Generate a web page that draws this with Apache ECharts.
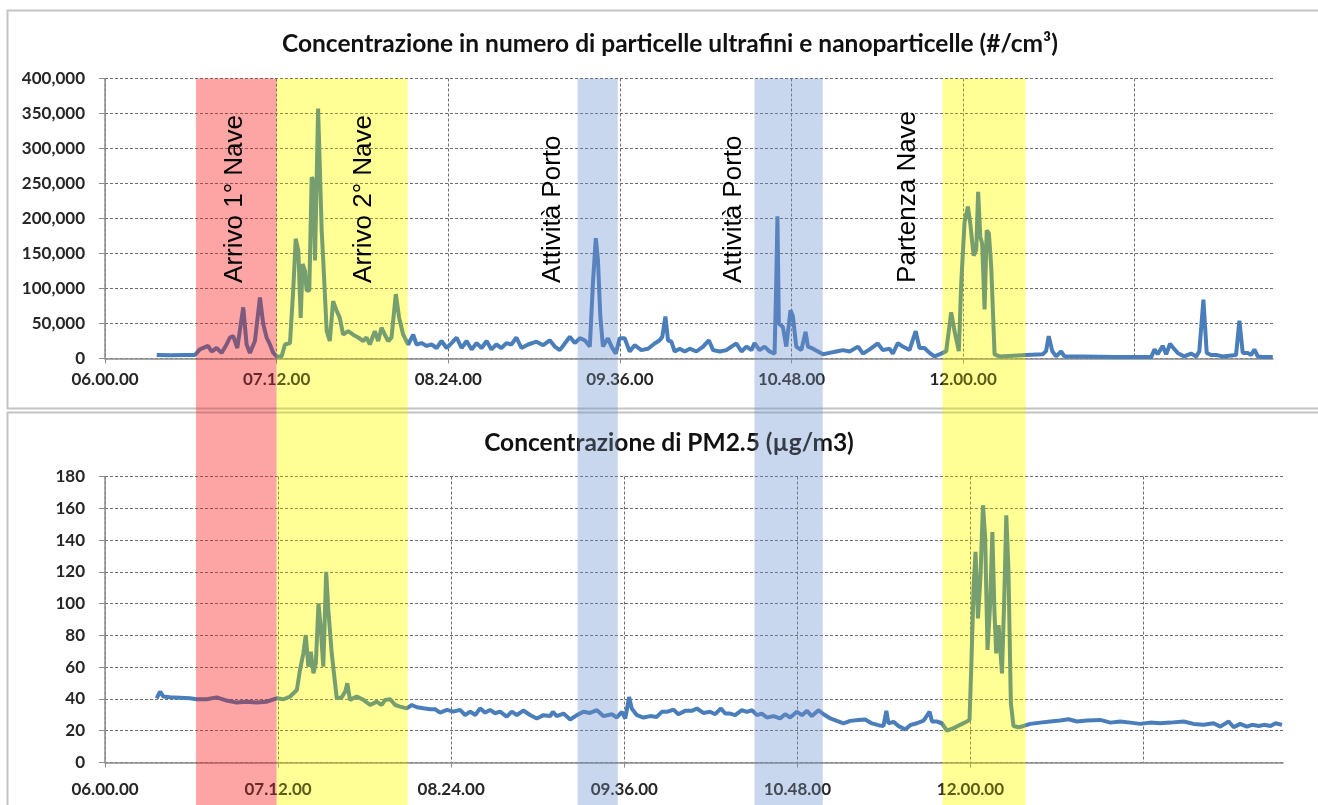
<!DOCTYPE html>
<html><head><meta charset="utf-8">
<script src="https://cdn.jsdelivr.net/npm/echarts@6/dist/echarts.min.js"></script>
<style>html,body{margin:0;padding:0;background:#fff;}#c{width:1318px;height:805px;background:#fff;}
#c canvas[data-zr-dom-id="zr_1"]{mix-blend-mode:multiply;}</style>
</head><body><div id="c"></div>
<script>
// x values: minutes after 06:00
const xTickMinutes = [0, 72, 144, 216, 288, 360, 432];
const xTickLabels = ['06.00.00', '07.12.00', '08.24.00', '09.36.00', '10.48.00', '12.00.00', '13.12.00'];

const ufpMinutes = [21.7,27.3,33.5,37.7,39.8,43.2,44.7,46.8,48.9,51.0,52.4,53.8,55.5,58.0,59.4,60.8,62.9,65.0,66.4,67.8,69.2,70.6,72.0,74.1,75.5,77.6,79.0,80.0,81.1,82.1,82.9,83.9,84.6,85.7,86.7,87.4,88.1,89.4,90.9,91.5,93.0,94.3,95.7,97.2,98.5,99.9,102.0,104.1,106.2,108.3,109.7,111.1,113.2,114.6,116.0,117.4,118.8,120.2,122.0,123.4,125.1,127.2,129.3,130.7,132.8,134.9,137.0,139.1,141.2,143.3,145.4,147.5,149.6,151.7,153.8,155.9,158.0,160.1,162.1,164.2,166.3,168.4,170.5,172.6,174.7,177.5,
181.0,183.8,186.6,188.7,190.8,192.9,195.0,197.1,199.2,201.3,203.4,204.7,205.9,206.8,207.8,208.9,211.0,212.5,214.3,215.9,218.0,220.1,222.2,225.0,227.8,230.6,232.7,233.8,235.1,236.2,237.6,239.0,241.1,243.2,245.3,248.1,250.9,253.3,255.1,257.9,260.7,262.8,264.9,267.0,269.1,271.2,272.5,274.6,276.7,278.8,280.9,281.6,282.1,282.7,284.4,285.8,287.6,288.6,290.0,292.1,293.9,294.9,297.0,299.1,301.2,304.0,306.8,309.6,312.4,315.9,318.0,320.8,324.2,326.3,329.1,330.5,332.6,334.7,337.5,
340.1,341.7,343.8,345.9,348.0,350.8,352.9,355.0,356.4,358.2,359.2,360.6,362.0,363.0,364.4,365.5,366.3,367.2,368.0,369.0,369.9,370.8,371.8,373.2,375.3,386.5,393.4,394.8,395.9,397.4,399.0,401.1,402.5,410.2,424.2,438.9,440.3,441.6,443.7,445.2,446.8,448.2,450.0,452.8,455.6,457.8,459.1,460.8,462.2,464.0,466.1,468.9,474.5,475.9,477.3,479.4,480.8,482.2,483.6,485.7,489.9];
const ufpValues = [5000,4500,5000,5000,13000,18000,10000,15000,8000,20000,30000,32000,15000,73000,20000,8000,25000,87000,49000,30000,20000,8000,3000,3000,20000,22000,100000,171000,154000,58000,135000,125000,97000,97000,259000,254000,140000,357000,183000,144000,39000,25000,82000,68000,58000,34000,39000,34000,30000,25000,30000,20000,39000,25000,44000,34000,25000,30000,92000,58000,34000,20000,34000,20000,22000,18000,20000,15000,25000,15000,22000,30000,15000,25000,13000,22000,15000,25000,13000,20000,15000,22000,20000,30000,15000,20000,
24000,19000,26000,17000,12000,21500,31000,22000,29000,26000,17000,108000,172000,141000,60000,17000,29000,17000,7000,29000,29000,10000,19000,12000,14000,21500,26000,31000,60000,26000,24000,10000,14000,10000,14000,10000,17000,26000,12000,10000,12000,17000,21500,10000,17000,12000,22000,12000,17000,10000,7000,108000,203000,50000,45000,17000,69000,60000,17000,12000,38000,17000,14000,10000,6000,8000,10000,12000,10000,17000,7000,13000,21500,12000,14000,7000,22000,17000,12000,
39000,15000,15000,8000,3000,7000,10500,66000,39000,10500,107000,195000,217000,193000,147000,155000,238000,174000,164000,70000,183000,179000,130000,6000,3000,5000,6000,10500,32000,10500,3000,10000,3000,3000,2000,2000,13000,6000,18000,6000,21000,15000,8000,3000,7000,3000,10500,84000,8000,5000,5000,3000,5000,54000,8000,8000,5000,13000,3000,2000,2000];

const pmMinutes = [21.5,22.9,24.3,27.0,31.2,35.4,38.1,42.3,46.5,50.6,54.8,59.0,63.1,67.3,71.4,74.2,77.0,79.8,81.1,82.5,83.5,84.6,85.6,86.7,87.7,88.8,89.7,90.8,92.0,92.9,94.3,96.4,98.5,99.9,100.8,101.9,104.7,107.5,110.3,113.0,115.1,116.5,118.6,120.7,122.7,125.5,127.6,129.7,132.4,135.2,137.3,139.4,142.2,144.9,147.7,149.8,151.9,154.0,156.0,158.1,160.2,162.3,164.3,167.1,169.2,171.3,174.0,176.8,
179.6,182.4,185.2,186.3,187.9,190.7,193.5,196.3,199.0,201.8,204.6,207.3,210.8,212.9,215.0,216.4,218.0,219.1,221.2,224.0,226.8,229.5,231.6,233.7,236.5,238.5,241.3,244.1,246.2,248.9,251.7,253.8,256.2,258.0,260.0,262.1,264.9,267.0,269.1,271.2,273.2,275.3,278.1,280.8,282.9,285.0,287.8,289.9,292.0,294.0,296.8,298.9,301.7,304.4,307.2,310.0,313.4,316.2,319.0,321.7,323.8,325.0,325.9,328.0,330.1,332.9,334.9,
337.7,340.5,343.0,344.0,346.0,348.1,350.2,353.0,355.7,358.5,359.6,360.3,361.3,362.1,363.1,364.1,365.2,366.1,367.1,368.2,369.1,370.0,370.7,371.7,372.4,373.1,374.0,374.9,375.8,376.8,377.9,380.0,382.1,384.9,389.0,393.2,397.3,400.8,404.3,408.5,414.0,418.2,422.3,426.5,430.6,434.8,439.0,443.1,448.7,452.8,457.0,461.1,463.9,467.4,469.5,472.2,475.0,477.1,479.9,482.0,484.8,486.9,489.6];
const pmValues = [40.4,44.6,41.5,41,40.8,40.4,39.8,39.8,41,39,37.7,38.3,37.7,38.3,40.4,39.8,41.5,45.6,58.2,68.7,80.2,60.3,69.7,56.1,62.4,100.1,85.4,60.3,120,95.9,68.7,40.4,41,44.6,49.8,39.4,41.5,39.4,36.2,38.3,36.2,39.4,39.8,36.2,35.2,34.1,36.2,34.8,34.1,33.5,33.5,31.4,33.1,32,33.1,29.9,32,29.9,34.1,31.4,33.1,31,32,28.9,32,29.9,32.7,29.9,
27.7,29.8,29.2,31.9,29.2,30.8,27.1,29.8,31.9,31.2,32.9,29.2,30.4,28.3,31.9,27.7,41.2,34,29.8,28.3,29.2,28.7,31.9,31.9,33.3,30.4,32.5,32.5,34,31.2,31.9,30.4,34,30.8,30.8,29.8,32.9,31.9,32.9,29.8,30.8,28.3,29.2,27.7,30.4,28.3,31.9,29.8,32.5,29.2,32.9,30.4,27.7,26.2,24.6,26.2,26.7,27.1,24.6,23.5,22.9,32.5,24.6,25.6,22.9,20.8,23.5,
24.7,26.4,32,25.8,25.8,24.7,20.1,21.6,23.7,25.8,26.8,58.2,110.6,132.6,90.7,114.8,161.9,142,70.8,100.1,145.1,93.8,68.7,86.5,87.5,56.1,100.1,155.6,121,37.3,23,22.2,23,24.3,25.1,25.8,26.4,27.2,25.8,26.4,26.8,25.1,25.8,25.1,24.3,25.1,24.7,25.1,25.8,24.3,23.7,24.7,22.6,25.8,22.2,24.3,22.6,23.7,23,23.7,23,24.7,23.7];

// shaded event periods (minutes after 06:00)
const bandStart = [38.2, 72, 198.3, 272.5, 351.4];
const bandEnd = [72, 127, 215.1, 301.1, 386.2];
const bandKind = ['red', 'yellow', 'blue', 'blue', 'yellow'];
const eventLabels = ['Arrivo 1° Nave', 'Arrivo 2° Nave', 'Attività Porto', 'Attività Porto', 'Partenza Nave'];
const eventLabelMinutes = [54.5, 108.6, 187.9, 263.8, 336.9];
const eventLabelBase = 108000;

// band look = multiply tint + translucent overlay
const bandMultiply = {red: '#FCD2D2', yellow: '#FFFFC8', blue: '#D2DEF0'};
const bandOverlay = {red: 'rgba(255,60,60,0.3)', yellow: 'rgba(255,255,0,0.25)', blue: 'rgba(170,195,230,0.25)'};
const lineColor = '#4A7EBB';
const labelFont = 'Lato, "Open Sans", sans-serif';

function fmtThousands(v) { return String(v).replace(/\B(?=(\d{3})+(?!\d))/g, ','); }

function makeX(gi) {
  return {
    gridIndex: gi, type: 'value', min: 0, max: 490, interval: 72,
    axisLine: {show: true, onZero: false, lineStyle: {color: '#8c8c8c', width: 1.5}},
    axisTick: {show: true, length: 5, customValues: xTickMinutes, lineStyle: {color: '#8c8c8c'}},
    axisLabel: {customValues: xTickMinutes, showMaxLabel: false,
      formatter: v => { const i = xTickMinutes.indexOf(v); return i >= 0 ? xTickLabels[i] : ''; },
      fontFamily: labelFont, fontWeight: 'bold', fontSize: 17, color: '#262626', margin: gi === 0 ? 13 : 19},
    splitLine: {show: true, lineStyle: {color: '#6e6e6e', type: [3, 2], width: 1}}
  };
}
function makeY(gi, max, interval, fmt) {
  return {
    gridIndex: gi, type: 'value', min: 0, max: max, interval: interval,
    axisLine: {show: true, lineStyle: {color: '#8c8c8c', width: 1.5}},
    axisTick: {show: true, length: 6, lineStyle: {color: '#8c8c8c'}},
    axisLabel: {formatter: fmt, fontFamily: labelFont, fontWeight: 'bold', fontSize: 17, color: '#262626', margin: 20},
    splitLine: {show: true, lineStyle: {color: '#6e6e6e', type: [3, 2], width: 1}}
  };
}
function bandSeries(zlevel, palette) {
  return {type: 'custom', xAxisIndex: 0, yAxisIndex: 0, zlevel: zlevel, z: 10, clip: false, silent: true,
    encode: {x: [0, 1]},
    data: bandStart.map((s, i) => [s, bandEnd[i], i]),
    renderItem: (params, api) => {
      const p0 = api.coord([api.value(0), 400000]);
      const p1 = api.coord([api.value(1), 400000]);
      return {type: 'rect', shape: {x: p0[0], y: p0[1], width: p1[0] - p0[0], height: api.getHeight() - p0[1]},
        style: {fill: palette[bandKind[api.value(2)]]}};
    }};
}

const chart = echarts.init(document.getElementById('c'), null, {renderer: 'canvas'});
chart.setOption({
  animation: false,
  grid: [
    {left: 105, top: 78.5, width: 1168, height: 280},
    {left: 105, top: 476.5, width: 1178, height: 286}
  ],
  xAxis: [makeX(0), makeX(1)],
  yAxis: [makeY(0, 400000, 50000, v => fmtThousands(v)), makeY(1, 180, 20, v => String(v))],
  graphic: [
    {type: 'rect', z: 0, shape: {x: 7.5, y: 10.5, width: 1330, height: 398}, style: {fill: null, stroke: '#c4c4c4', lineWidth: 2}},
    {type: 'rect', z: 0, shape: {x: 7.5, y: 412.5, width: 1330, height: 420}, style: {fill: null, stroke: '#c4c4c4', lineWidth: 2}},
    {type: 'text', z: 1, x: 670, y: 44, style: {text: 'Concentrazione in numero di particelle ultrafini e nanoparticelle (#/cm³)', font: 'bold 24.5px ' + labelFont, fill: '#111', textAlign: 'center', textVerticalAlign: 'middle', align: 'center', verticalAlign: 'middle'}},
    {type: 'text', z: 1, x: 669, y: 443, style: {text: 'Concentrazione di PM2.5 (µg/m3)', font: 'bold 24.5px ' + labelFont, fill: '#111', textAlign: 'center', textVerticalAlign: 'middle', align: 'center', verticalAlign: 'middle'}}
  ],
  series: [
    {type: 'line', xAxisIndex: 0, yAxisIndex: 0, showSymbol: false, symbol: 'none',
      lineStyle: {color: lineColor, width: 4}, itemStyle: {color: lineColor},
      data: ufpMinutes.map((m, i) => [m, ufpValues[i]])},
    {type: 'line', xAxisIndex: 1, yAxisIndex: 1, showSymbol: false, symbol: 'none',
      lineStyle: {color: lineColor, width: 4}, itemStyle: {color: lineColor},
      data: pmMinutes.map((m, i) => [m, pmValues[i]])},
    bandSeries(1, bandMultiply),
    bandSeries(2, bandOverlay),
    {type: 'custom', xAxisIndex: 0, yAxisIndex: 0, zlevel: 2, z: 20, clip: false, silent: true,
      encode: {x: 0, y: 1},
      data: eventLabelMinutes.map((m, i) => [m, eventLabelBase, i]),
      renderItem: (params, api) => {
        const p = api.coord([api.value(0), api.value(1)]);
        return {type: 'text', x: p[0], y: p[1], rotation: Math.PI / 2,
          style: {text: eventLabels[api.value(2)], fill: '#000', font: '26px "Liberation Sans", Arial, sans-serif',
            align: 'left', verticalAlign: 'middle'}};
      }}
  ]
});
// make the tint layer blend multiplicatively
document.querySelectorAll('#c canvas').forEach(cv => {
  if (cv.getAttribute('data-zr-dom-id') === 'zr_1') cv.style.mixBlendMode = 'multiply';
});
</script></body></html>
